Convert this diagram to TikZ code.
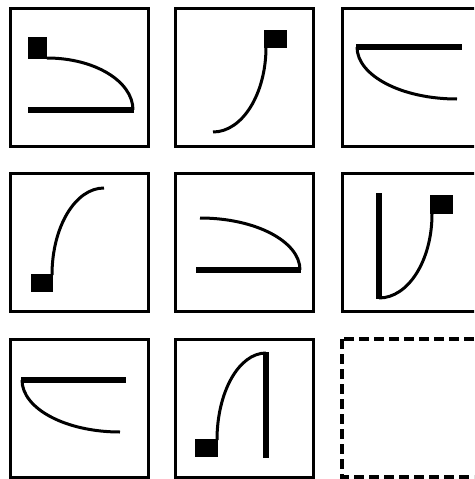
\documentclass[tikz,border=0pt]{standalone}
\begin{document}
\begin{tikzpicture}[x=1pt,y=-1pt,
  frame/.style={line width=3pt},
  blank/.style={line width=3.5pt,dash pattern=on 10pt off 5pt},
  curve/.style={line width=3pt},
  bar/.style={line width=5.5pt},
  marker/.style={fill=black}]
  \clip (0,0) rectangle (474,479);
  \draw[frame] (10,8) rectangle +(138,138);
  \draw[frame] (175,8) rectangle +(138,138);
  \draw[frame] (342,8) rectangle +(138,138);
  \draw[frame] (10,173) rectangle +(138,138);
  \draw[frame] (175,173) rectangle +(138,138);
  \draw[frame] (342,173) rectangle +(138,138);
  \draw[frame] (10,339) rectangle +(138,138);
  \draw[frame] (175,339) rectangle +(138,138);
  \draw[blank] (342,339) rectangle +(138,138);

  \fill[marker] (28,37) rectangle (47,59);
  \draw[curve] (47,58) arc[start angle=90,end angle=0,x radius=86pt,y radius=52pt];
  \draw[bar] (28,110) -- (134,110);

  \fill[marker] (264,30) rectangle (287,48);
  \draw[curve] (266,47) arc[start angle=0,end angle=-90,x radius=53pt,y radius=85pt];

  \draw[bar] (356,47) -- (462,47);
  \draw[curve] (357,47) arc[start angle=180,end angle=270,x radius=100pt,y radius=52pt];

  \fill[marker] (31,274) rectangle (53,292);
  \draw[curve] (52,275) arc[start angle=180,end angle=90,x radius=52pt,y radius=87pt];

  \draw[curve] (200,218) arc[start angle=90,end angle=0,x radius=100pt,y radius=52pt];
  \draw[bar] (196,270) -- (301,270);

  \draw[bar] (379,193) -- (379,299);
  \draw[curve] (379,298) arc[start angle=-90,end angle=0,x radius=53pt,y radius=84pt];
  \fill[marker] (430,195) rectangle (453,214);

  \draw[bar] (21,380) -- (126,380);
  \draw[curve] (22,380) arc[start angle=180,end angle=270,x radius=98pt,y radius=52pt];

  \fill[marker] (195,439) rectangle (218,457);
  \draw[curve] (217,440) arc[start angle=180,end angle=90,x radius=49pt,y radius=87pt];
  \draw[bar] (266,352) -- (266,458);
\end{tikzpicture}
\end{document}
